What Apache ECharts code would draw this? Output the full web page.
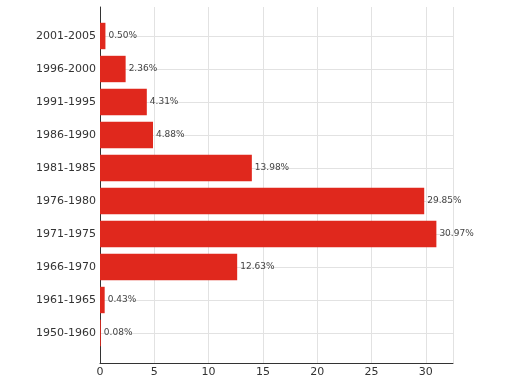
<!DOCTYPE html>
<html>
<head>
<meta charset="utf-8">
<script src="https://cdn.jsdelivr.net/npm/echarts@6/dist/echarts.min.js"></script>
<style>html,body{margin:0;padding:0;background:#fff}#c{width:512px;height:384px}</style>
</head>
<body>
<div id="c"></div>
<script>
const categories = ['1950-1960','1961-1965','1966-1970','1971-1975','1976-1980','1981-1985','1986-1990','1991-1995','1996-2000','2001-2005'];
const values = [0.08, 0.43, 12.63, 30.97, 29.85, 13.98, 4.88, 4.31, 2.36, 0.50];
const xTicks = [0, 5, 10, 15, 20, 25, 30];

const FONT = 'DejaVu Sans';
const chart = echarts.init(document.getElementById('c'), null, {renderer: 'canvas'});
chart.setOption({
  animation: false,
  backgroundColor: '#fff',
  textStyle: {fontFamily: FONT},
  grid: [
    {left: 100, right: 59, top: 7, bottom: 21, containLabel: false},
    {left: 100, right: 59, top: 19.5, bottom: 34.5, containLabel: false}
  ],
  xAxis: [
    {gridIndex: 0, type: 'value', min: 0, max: 32.5, interval: 5,
     axisLine: {show: true, lineStyle: {color: '#333', width: 1}},
     axisTick: {show: false},
     axisLabel: {color: '#333', fontSize: 11, fontFamily: FONT, margin: 4,
       formatter: v => (xTicks.indexOf(v) >= 0 ? String(v) : '')},
     splitLine: {show: true, lineStyle: {color: '#e2e2e2', width: 1}}},
    {gridIndex: 1, type: 'value', min: 0, max: 32.5, show: false, splitLine: {show: false}}
  ],
  yAxis: [
    {gridIndex: 0, type: 'value', min: 0, max: 1, axisLine: {show: true, onZero: false, lineStyle: {color: '#333', width: 1}},
     axisTick: {show: false}, axisLabel: {show: false}, splitLine: {show: false}},
    {gridIndex: 1, type: 'category', data: categories,
     axisLine: {show: false}, axisTick: {show: false},
     axisLabel: {color: '#333', fontSize: 11, fontFamily: FONT, margin: 4},
     splitLine: {show: true, alignWithLabel: true, lineStyle: {color: '#e2e2e2', width: 1}}}
  ],
  series: [{
    type: 'bar', xAxisIndex: 1, yAxisIndex: 1, data: values,
    barCategoryGap: '20%',
    itemStyle: {color: '#e0281d'},
    label: {show: true, position: 'right', distance: 3, color: '#444', fontSize: 9, fontFamily: FONT,
      formatter: p => p.value.toFixed(2) + '%'}
  }]
});
</script>
</body>
</html>
